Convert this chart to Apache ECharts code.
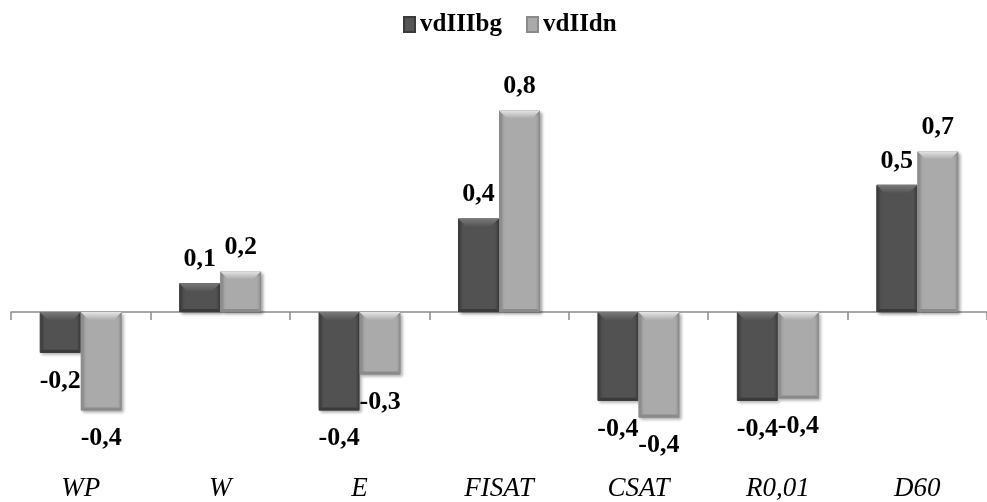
<!DOCTYPE html>
<html>
<head>
<meta charset="utf-8">
<script src="https://cdn.jsdelivr.net/npm/echarts@6/dist/echarts.min.js"></script>
<style>html,body{margin:0;padding:0;background:#fff;}#c{width:987px;height:502px;}</style>
</head>
<body>
<div id="c"></div>
<script>
const categories = ['WP', 'W', 'E', 'FISAT', 'CSAT', 'R0,01', 'D60'];
const seriesNames = ['vdIIIbg', 'vdIIdn'];
const vdIIIbg = [-0.17, 0.12, -0.41, 0.39, -0.37, -0.37, 0.53];
const vdIIdn  = [-0.41, 0.17, -0.26, 0.84, -0.44, -0.36, 0.67];

const serif = '"Liberation Serif", "Times New Roman", serif';
const BW = 41;
function grad(edge, mid) {
  return new echarts.graphic.LinearGradient(0, 0, 1, 0, [
    {offset: 0, color: edge}, {offset: 0.1, color: mid}, {offset: 0.9, color: mid}, {offset: 1, color: edge}
  ]);
}
function mk(name, vals, edge, mid, border) {
  return {
    name: name, type: 'bar', barWidth: BW, barGap: '0%',
    xAxisIndex: 0, z: 2,
    itemStyle: {color: grad(edge, mid), borderColor: border, borderWidth: 1,
      shadowColor: 'rgba(0,0,0,0.35)', shadowBlur: 3, shadowOffsetX: 2, shadowOffsetY: 2},
    label: {show: true, position: 'outside', color: '#000',
      fontFamily: serif, fontWeight: 'bold', fontSize: 26,
      formatter: p => p.value.toFixed(1).replace('.', ',')},
    data: vals.map(v => ({value: v, label: {distance: v < 0 ? 15 : 11}}))
  };
}
function bevel(vals, side, hi, mid, low) {
  return {
    type: 'custom', name: 'bevel' + side, silent: true, z: 3, xAxisIndex: 0,
    data: vals.map((v, i) => [i, v]),
    renderItem: function (params, api) {
      const end = api.coord([api.value(0), api.value(1)]);
      const base = api.coord([api.value(0), 0]);
      const cx = end[0];
      const x0 = side === 0 ? cx - BW : cx;
      const x1 = side === 0 ? cx : cx + BW;
      const yt = Math.min(end[1], base[1]);
      const yb = Math.max(end[1], base[1]);
      const b = Math.min(8, (yb - yt) / 3);
      return {
        type: 'group',
        children: [
          {type: 'polygon', shape: {points: [[x0, yt], [x1, yt], [x1 - b, yt + b], [x0 + b, yt + b]]},
            style: {fill: new echarts.graphic.LinearGradient(0, 0, 0, 1, [
              {offset: 0, color: hi}, {offset: 1, color: mid}])}},
          {type: 'polygon', shape: {points: [[x0, yb], [x1, yb], [x1 - 3, yb - 3], [x0 + 3, yb - 3]]},
            style: {fill: low}}
        ]
      };
    }
  };
}
const chart = echarts.init(document.getElementById('c'));
chart.setOption({
  animation: false,
  backgroundColor: '#fff',
  legend: {
    top: 7, left: 398, icon: 'rect', itemWidth: 11, itemHeight: 15, itemGap: 24,
    textStyle: {fontFamily: serif, fontWeight: 'bold', fontSize: 25, color: '#000'},
    data: [
      {name: seriesNames[0], itemStyle: {color: '#555'}},
      {name: seriesNames[1], itemStyle: {color: '#aaa'}}
    ]
  },
  grid: {left: 11, right: -9, top: 96, bottom: 68.6, containLabel: false},
  xAxis: [
    {type: 'category', data: categories, position: 'bottom',
      axisLine: {show: false, onZero: false}, axisTick: {show: false},
      axisLabel: {margin: 43, color: '#000', fontFamily: serif, fontStyle: 'italic', fontSize: 27}},
    {type: 'category', data: categories, position: 'top',
      axisLine: {show: true, onZero: true, lineStyle: {color: '#8c8c8c', width: 1.5}},
      axisTick: {show: true, inside: true, length: 8, lineStyle: {color: '#8c8c8c', width: 1.5}},
      axisLabel: {show: false}}
  ],
  yAxis: {type: 'value', min: -0.5, max: 0.9, show: false, splitLine: {show: false}},
  series: [
    mk(seriesNames[0], vdIIIbg, '#3c3c3c', '#525252', '#3a3a3a'),
    mk(seriesNames[1], vdIIdn, '#8e8e8e', '#aaaaaa', '#8a8a8a'),
    bevel(vdIIIbg, 0, '#7a7a7a', '#555555', '#3a3a3a'),
    bevel(vdIIdn, 1, '#e6e6e6', '#ababab', '#8a8a8a')
  ]
});
</script>
</body>
</html>
